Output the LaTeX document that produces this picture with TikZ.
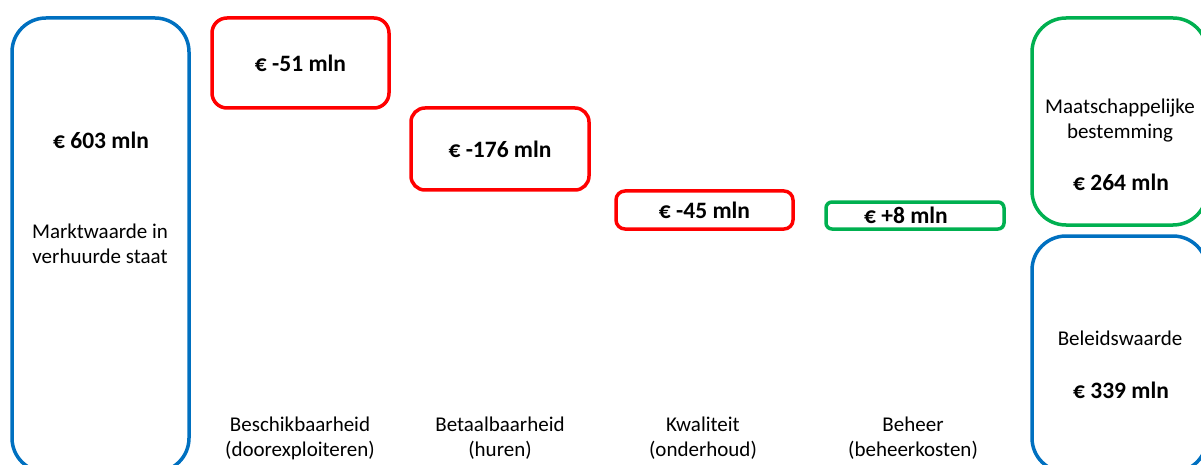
\documentclass[tikz,border=0pt]{standalone}
\usepackage{fontspec}
\setmainfont{Carlito}
\usepackage{tikz}
\usetikzlibrary{positioning}
\definecolor{boxblue}{HTML}{0070C0}
\definecolor{boxred}{HTML}{FF0000}
\definecolor{boxgreen}{HTML}{00B050}
\tikzset{
    valbox/.style={draw, line width=3.5pt, inner sep=0pt, font=\fontsize{23.5}{27}\selectfont\bfseries},
    bigbox/.style={draw, line width=3.5pt, inner sep=0pt, rounded corners=34pt},
    txt/.style={align=center, font=\fontsize{21}{25}\selectfont},
    num/.style={font=\fontsize{23.5}{27}\selectfont\bfseries}
}

\begin{document}
\begin{tikzpicture}[x=1pt, y=-1pt]
        \useasboundingbox (0,0) rectangle (1201,465);
        \clip (0,0) rectangle (1201,465);

        % Start value
        \node[bigbox, boxblue, minimum width=177pt, minimum height=454pt] (markt) at (100.5,245) {};
        \node[num] (marktval) at (101,140) {€ 603 mln};
        \node[txt] (marktlbl) at (100,244) {Marktwaarde in\\verhuurde staat};

        % Steps
        \node[valbox, boxred, rounded corners=15pt, minimum width=177pt, minimum height=90pt, text=black] (beschik) at (300.5,63) {€ -51 mln};
        \node[valbox, boxred, rounded corners=14pt, minimum width=178pt, minimum height=82pt, text=black] (betaal) at (500,149) {€ -176 mln};
        \node[valbox, boxred, rounded corners=9pt, minimum width=177pt, minimum height=38pt, text=black] (kwal) at (704.5,210) {€ -45 mln};
        \node[valbox, boxgreen, rounded corners=6pt, minimum width=178pt, minimum height=27pt, text=black] (beheer) at (915,215.5) {\hspace*{-18pt}€ +8 mln};

        % End values
        \node[bigbox, boxgreen, minimum width=175pt, minimum height=207pt] (maatsch) at (1119.5,121.5) {};
        \node[txt] (maatschlbl) at (1120,121) {Maatschappelijke\\bestemming};
        \node[num] (maatschval) at (1121,182) {€ 264 mln};
        \node[bigbox, boxblue, minimum width=175pt, minimum height=236pt] (beleid) at (1119.5,354) {};
        \node[txt] (beleidlbl) at (1120,338) {Beleidswaarde};
        \node[num] (beleidval) at (1121,390) {€ 339 mln};

        % Labels
        \node[txt] (lbl1) at (300,438) {Beschikbaarheid\\(doorexploiteren)};
        \node[txt] (lbl2) at (500,438) {Betaalbaarheid\\(huren)};
        \node[txt] (lbl3) at (703,438) {Kwaliteit\\(onderhoud)};
        \node[txt] (lbl4) at (913,438) {Beheer\\(beheerkosten)};
    \end{tikzpicture}
\end{document}
